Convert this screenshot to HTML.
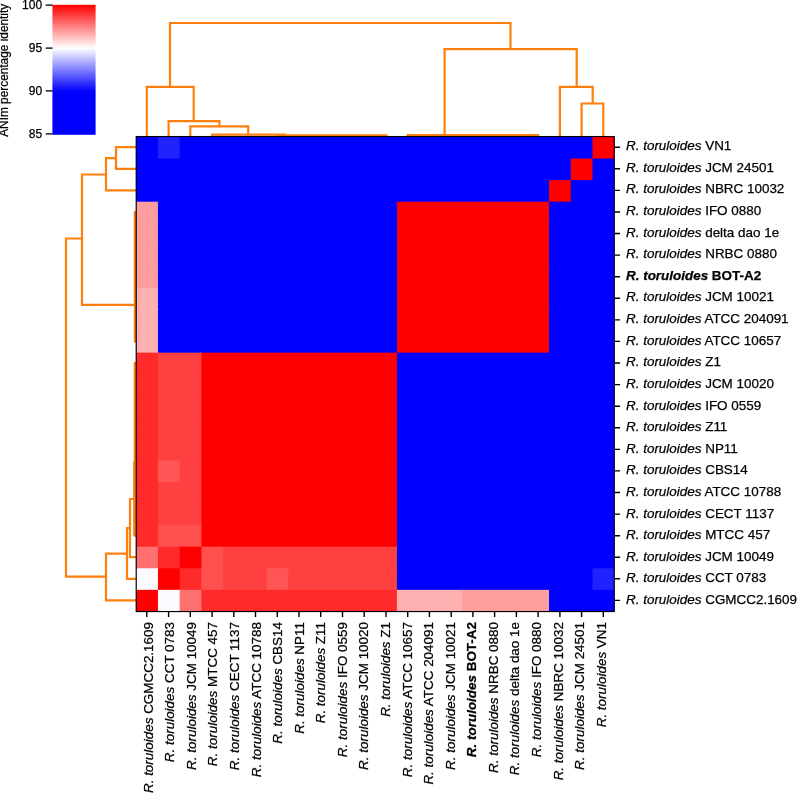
<!DOCTYPE html>
<html><head><meta charset="utf-8"><title>ANIm percentage identity heatmap</title>
<style>html,body{margin:0;padding:0;background:#fff}svg{display:block;will-change:transform}text{fill:#000;stroke:#000;stroke-width:0.25px;paint-order:stroke fill}</style></head>
<body>
<svg width="797" height="793" viewBox="0 0 797 793" font-family="'Liberation Sans', Arial, Helvetica, sans-serif">
<defs><linearGradient id="cb" x1="0" y1="0" x2="0" y2="1"><stop offset="0" stop-color="#ff0000"/><stop offset="0.3333" stop-color="#ffffff"/><stop offset="0.6667" stop-color="#0000ff"/><stop offset="1" stop-color="#0000ff"/></linearGradient></defs>
<rect width="797" height="793" fill="#fff"/>
<rect x="52.4" y="4.8" width="43.2" height="130" fill="url(#cb)"/>
<line x1="45.7" x2="52.6" y1="5.1" y2="5.1" stroke="#000" stroke-width="1.3"/>
<text x="42.1" y="8.8" font-size="12" text-anchor="end">100</text>
<line x1="45.7" x2="52.6" y1="48.1" y2="48.1" stroke="#000" stroke-width="1.3"/>
<text x="42.1" y="51.8" font-size="12" text-anchor="end">95</text>
<line x1="45.7" x2="52.6" y1="90.9" y2="90.9" stroke="#000" stroke-width="1.3"/>
<text x="42.1" y="94.6" font-size="12" text-anchor="end">90</text>
<line x1="45.7" x2="52.6" y1="133.9" y2="133.9" stroke="#000" stroke-width="1.3"/>
<text x="42.1" y="137.6" font-size="12" text-anchor="end">85</text>
<text transform="translate(8.0,70.3) rotate(-90)" font-size="11.85" text-anchor="middle">ANIm percentage identity</text>
<path d="M170.0 86.9V23.0H510.5V49.2M146.8 136.6V86.9H193.7V121.1M168.6 136.6V121.1H219.4V126.4M190.3 136.6V126.4H248.2V134.7M212.1 136.6V134.7H285.0V135.4M277.3 136.6V135.4H386.5V136.6M444.6 135.0V49.2H576.7V86.9M407.7 136.6V135.0H538.1V136.6M559.9 136.6V86.9H592.7V103.5M581.6 136.6V103.5H603.3V136.6M136.2 147.2H116.0V168.8H136.2M116.0 158.2H106.0V190.4H136.2M106.0 174.5H82.0V304.8H134.9M136.2 212.0H134.9V341.4H136.2M82.0 238.5H66.0V576.7H106.0M127.0 553.7H106.0V600.4H136.2M130.0 528.2H127.0V578.8H136.2M134.8 499.0H130.0V557.2H136.2M134.2 461.0V535.7M136.2 363.0H134.8V535.7H136.2" fill="none" stroke="#ff7f0e" stroke-width="2.2" stroke-linejoin="miter" stroke-linecap="butt"/>
<rect x="136.2" y="137.0" width="478.0" height="474.4" fill="#0000ff"/>
<g>
<rect x="136.20" y="137.00" width="22.93" height="22.76" fill="#0000ff"/>
<rect x="157.93" y="137.00" width="22.93" height="22.76" fill="#2222ff"/>
<rect x="179.65" y="137.00" width="414.02" height="22.76" fill="#0000ff"/>
<rect x="592.47" y="137.00" width="21.73" height="22.76" fill="#ff0000"/>
<rect x="136.20" y="158.56" width="435.75" height="22.76" fill="#0000ff"/>
<rect x="570.75" y="158.56" width="22.93" height="22.76" fill="#ff0000"/>
<rect x="592.47" y="158.56" width="21.73" height="22.76" fill="#0000ff"/>
<rect x="136.20" y="180.13" width="414.02" height="22.76" fill="#0000ff"/>
<rect x="549.02" y="180.13" width="22.93" height="22.76" fill="#ff0000"/>
<rect x="570.75" y="180.13" width="43.45" height="22.76" fill="#0000ff"/>
<rect x="136.20" y="201.69" width="22.93" height="22.76" fill="#ff9e9e"/>
<rect x="157.93" y="201.69" width="240.20" height="22.76" fill="#0000ff"/>
<rect x="396.93" y="201.69" width="153.29" height="22.76" fill="#ff0000"/>
<rect x="549.02" y="201.69" width="65.18" height="22.76" fill="#0000ff"/>
<rect x="136.20" y="223.25" width="22.93" height="22.76" fill="#ff9e9e"/>
<rect x="157.93" y="223.25" width="240.20" height="22.76" fill="#0000ff"/>
<rect x="396.93" y="223.25" width="153.29" height="22.76" fill="#ff0000"/>
<rect x="549.02" y="223.25" width="65.18" height="22.76" fill="#0000ff"/>
<rect x="136.20" y="244.82" width="22.93" height="22.76" fill="#ff9e9e"/>
<rect x="157.93" y="244.82" width="240.20" height="22.76" fill="#0000ff"/>
<rect x="396.93" y="244.82" width="153.29" height="22.76" fill="#ff0000"/>
<rect x="549.02" y="244.82" width="65.18" height="22.76" fill="#0000ff"/>
<rect x="136.20" y="266.38" width="22.93" height="22.76" fill="#ff9e9e"/>
<rect x="157.93" y="266.38" width="240.20" height="22.76" fill="#0000ff"/>
<rect x="396.93" y="266.38" width="153.29" height="22.76" fill="#ff0000"/>
<rect x="549.02" y="266.38" width="65.18" height="22.76" fill="#0000ff"/>
<rect x="136.20" y="287.95" width="22.93" height="22.76" fill="#ffb0b0"/>
<rect x="157.93" y="287.95" width="240.20" height="22.76" fill="#0000ff"/>
<rect x="396.93" y="287.95" width="153.29" height="22.76" fill="#ff0000"/>
<rect x="549.02" y="287.95" width="65.18" height="22.76" fill="#0000ff"/>
<rect x="136.20" y="309.51" width="22.93" height="22.76" fill="#ffb0b0"/>
<rect x="157.93" y="309.51" width="240.20" height="22.76" fill="#0000ff"/>
<rect x="396.93" y="309.51" width="153.29" height="22.76" fill="#ff0000"/>
<rect x="549.02" y="309.51" width="65.18" height="22.76" fill="#0000ff"/>
<rect x="136.20" y="331.07" width="22.93" height="22.76" fill="#ffb0b0"/>
<rect x="157.93" y="331.07" width="240.20" height="22.76" fill="#0000ff"/>
<rect x="396.93" y="331.07" width="153.29" height="22.76" fill="#ff0000"/>
<rect x="549.02" y="331.07" width="65.18" height="22.76" fill="#0000ff"/>
<rect x="136.20" y="352.64" width="22.93" height="22.76" fill="#ff2a2a"/>
<rect x="157.93" y="352.64" width="44.65" height="22.76" fill="#ff4040"/>
<rect x="201.38" y="352.64" width="196.75" height="22.76" fill="#ff0000"/>
<rect x="396.93" y="352.64" width="217.27" height="22.76" fill="#0000ff"/>
<rect x="136.20" y="374.20" width="22.93" height="22.76" fill="#ff2a2a"/>
<rect x="157.93" y="374.20" width="44.65" height="22.76" fill="#ff4040"/>
<rect x="201.38" y="374.20" width="196.75" height="22.76" fill="#ff0000"/>
<rect x="396.93" y="374.20" width="217.27" height="22.76" fill="#0000ff"/>
<rect x="136.20" y="395.76" width="22.93" height="22.76" fill="#ff2a2a"/>
<rect x="157.93" y="395.76" width="44.65" height="22.76" fill="#ff4040"/>
<rect x="201.38" y="395.76" width="196.75" height="22.76" fill="#ff0000"/>
<rect x="396.93" y="395.76" width="217.27" height="22.76" fill="#0000ff"/>
<rect x="136.20" y="417.33" width="22.93" height="22.76" fill="#ff2a2a"/>
<rect x="157.93" y="417.33" width="44.65" height="22.76" fill="#ff4040"/>
<rect x="201.38" y="417.33" width="196.75" height="22.76" fill="#ff0000"/>
<rect x="396.93" y="417.33" width="217.27" height="22.76" fill="#0000ff"/>
<rect x="136.20" y="438.89" width="22.93" height="22.76" fill="#ff2a2a"/>
<rect x="157.93" y="438.89" width="44.65" height="22.76" fill="#ff4040"/>
<rect x="201.38" y="438.89" width="196.75" height="22.76" fill="#ff0000"/>
<rect x="396.93" y="438.89" width="217.27" height="22.76" fill="#0000ff"/>
<rect x="136.20" y="460.45" width="22.93" height="22.76" fill="#ff2a2a"/>
<rect x="157.93" y="460.45" width="22.93" height="22.76" fill="#ff5555"/>
<rect x="179.65" y="460.45" width="22.93" height="22.76" fill="#ff4040"/>
<rect x="201.38" y="460.45" width="196.75" height="22.76" fill="#ff0000"/>
<rect x="396.93" y="460.45" width="217.27" height="22.76" fill="#0000ff"/>
<rect x="136.20" y="482.02" width="22.93" height="22.76" fill="#ff2a2a"/>
<rect x="157.93" y="482.02" width="44.65" height="22.76" fill="#ff4040"/>
<rect x="201.38" y="482.02" width="196.75" height="22.76" fill="#ff0000"/>
<rect x="396.93" y="482.02" width="217.27" height="22.76" fill="#0000ff"/>
<rect x="136.20" y="503.58" width="22.93" height="22.76" fill="#ff2a2a"/>
<rect x="157.93" y="503.58" width="44.65" height="22.76" fill="#ff4040"/>
<rect x="201.38" y="503.58" width="196.75" height="22.76" fill="#ff0000"/>
<rect x="396.93" y="503.58" width="217.27" height="22.76" fill="#0000ff"/>
<rect x="136.20" y="525.15" width="22.93" height="22.76" fill="#ff2a2a"/>
<rect x="157.93" y="525.15" width="44.65" height="22.76" fill="#ff5050"/>
<rect x="201.38" y="525.15" width="196.75" height="22.76" fill="#ff0000"/>
<rect x="396.93" y="525.15" width="217.27" height="22.76" fill="#0000ff"/>
<rect x="136.20" y="546.71" width="22.93" height="22.76" fill="#ff7070"/>
<rect x="157.93" y="546.71" width="22.93" height="22.76" fill="#ff2a2a"/>
<rect x="179.65" y="546.71" width="22.93" height="22.76" fill="#ff0000"/>
<rect x="201.38" y="546.71" width="22.93" height="22.76" fill="#ff5050"/>
<rect x="223.11" y="546.71" width="175.02" height="22.76" fill="#ff4040"/>
<rect x="396.93" y="546.71" width="217.27" height="22.76" fill="#0000ff"/>
<rect x="136.20" y="568.27" width="22.93" height="22.76" fill="#fafaff"/>
<rect x="157.93" y="568.27" width="22.93" height="22.76" fill="#ff0000"/>
<rect x="179.65" y="568.27" width="22.93" height="22.76" fill="#ff2a2a"/>
<rect x="201.38" y="568.27" width="22.93" height="22.76" fill="#ff5050"/>
<rect x="223.11" y="568.27" width="44.65" height="22.76" fill="#ff4040"/>
<rect x="266.56" y="568.27" width="22.93" height="22.76" fill="#ff5555"/>
<rect x="288.29" y="568.27" width="109.84" height="22.76" fill="#ff4040"/>
<rect x="396.93" y="568.27" width="196.75" height="22.76" fill="#0000ff"/>
<rect x="592.47" y="568.27" width="21.73" height="22.76" fill="#2222ff"/>
<rect x="136.20" y="589.84" width="22.93" height="21.56" fill="#ff0000"/>
<rect x="157.93" y="589.84" width="22.93" height="21.56" fill="#fafaff"/>
<rect x="179.65" y="589.84" width="22.93" height="21.56" fill="#ff7070"/>
<rect x="201.38" y="589.84" width="196.75" height="21.56" fill="#ff2a2a"/>
<rect x="396.93" y="589.84" width="66.38" height="21.56" fill="#ffb0b0"/>
<rect x="462.11" y="589.84" width="88.11" height="21.56" fill="#ff9e9e"/>
<rect x="549.02" y="589.84" width="65.18" height="21.56" fill="#0000ff"/>
</g>
<rect x="136.2" y="136.55" width="478.05" height="475.00" fill="none" stroke="#000" stroke-width="1.15"/>
<path d="M614.8 147.2h5.3M614.8 168.8h5.3M614.8 190.4h5.3M614.8 212.0h5.3M614.8 233.5h5.3M614.8 255.1h5.3M614.8 276.7h5.3M614.8 298.3h5.3M614.8 319.9h5.3M614.8 341.4h5.3M614.8 363.0h5.3M614.8 384.6h5.3M614.8 406.2h5.3M614.8 427.8h5.3M614.8 449.4h5.3M614.8 470.9h5.3M614.8 492.5h5.3M614.8 514.1h5.3M614.8 535.7h5.3M614.8 557.2h5.3M614.8 578.8h5.3M614.8 600.4h5.3M146.8 612.0v5.0M168.6 612.0v5.0M190.3 612.0v5.0M212.1 612.0v5.0M233.8 612.0v5.0M255.5 612.0v5.0M277.3 612.0v5.0M299.0 612.0v5.0M320.7 612.0v5.0M342.5 612.0v5.0M364.2 612.0v5.0M386.0 612.0v5.0M407.7 612.0v5.0M429.4 612.0v5.0M451.2 612.0v5.0M472.9 612.0v5.0M494.6 612.0v5.0M516.4 612.0v5.0M538.1 612.0v5.0M559.9 612.0v5.0M581.6 612.0v5.0M603.3 612.0v5.0" stroke="#000" stroke-width="1.4" fill="none"/>
<text x="626.0" y="150.1" font-size="13.45" xml:space="preserve"><tspan font-style="italic">R. toruloides</tspan> VN1</text>
<text x="626.0" y="171.7" font-size="13.45" xml:space="preserve"><tspan font-style="italic">R. toruloides</tspan> JCM 24501</text>
<text x="626.0" y="193.3" font-size="13.45" xml:space="preserve"><tspan font-style="italic">R. toruloides</tspan> NBRC 10032</text>
<text x="626.0" y="214.9" font-size="13.45" xml:space="preserve"><tspan font-style="italic">R. toruloides</tspan> IFO 0880</text>
<text x="626.0" y="236.5" font-size="13.45" xml:space="preserve"><tspan font-style="italic">R. toruloides</tspan> delta dao 1e</text>
<text x="626.0" y="258.2" font-size="13.45" xml:space="preserve"><tspan font-style="italic">R. toruloides</tspan> NRBC 0880</text>
<text x="626.0" y="279.8" font-size="13.45" font-weight="bold" xml:space="preserve"><tspan font-style="italic">R. toruloides</tspan> BOT-A2</text>
<text x="626.0" y="301.4" font-size="13.45" xml:space="preserve"><tspan font-style="italic">R. toruloides</tspan> JCM 10021</text>
<text x="626.0" y="323.0" font-size="13.45" xml:space="preserve"><tspan font-style="italic">R. toruloides</tspan> ATCC 204091</text>
<text x="626.0" y="344.6" font-size="13.45" xml:space="preserve"><tspan font-style="italic">R. toruloides</tspan> ATCC 10657</text>
<text x="626.0" y="366.2" font-size="13.45" xml:space="preserve"><tspan font-style="italic">R. toruloides</tspan> Z1</text>
<text x="626.0" y="387.9" font-size="13.45" xml:space="preserve"><tspan font-style="italic">R. toruloides</tspan> JCM 10020</text>
<text x="626.0" y="409.5" font-size="13.45" xml:space="preserve"><tspan font-style="italic">R. toruloides</tspan> IFO 0559</text>
<text x="626.0" y="431.1" font-size="13.45" xml:space="preserve"><tspan font-style="italic">R. toruloides</tspan> Z11</text>
<text x="626.0" y="452.7" font-size="13.45" xml:space="preserve"><tspan font-style="italic">R. toruloides</tspan> NP11</text>
<text x="626.0" y="474.3" font-size="13.45" xml:space="preserve"><tspan font-style="italic">R. toruloides</tspan> CBS14</text>
<text x="626.0" y="496.0" font-size="13.45" xml:space="preserve"><tspan font-style="italic">R. toruloides</tspan> ATCC 10788</text>
<text x="626.0" y="517.6" font-size="13.45" xml:space="preserve"><tspan font-style="italic">R. toruloides</tspan> CECT 1137</text>
<text x="626.0" y="539.2" font-size="13.45" xml:space="preserve"><tspan font-style="italic">R. toruloides</tspan> MTCC 457</text>
<text x="626.0" y="560.8" font-size="13.45" xml:space="preserve"><tspan font-style="italic">R. toruloides</tspan> JCM 10049</text>
<text x="626.0" y="582.4" font-size="13.45" xml:space="preserve"><tspan font-style="italic">R. toruloides</tspan> CCT 0783</text>
<text x="626.0" y="604.0" font-size="13.45" xml:space="preserve"><tspan font-style="italic">R. toruloides</tspan> CGMCC2.1609</text>
<text transform="translate(152.7,622.0) rotate(-90)" text-anchor="end" font-size="13.45" xml:space="preserve"><tspan font-style="italic">R. toruloides</tspan> CGMCC2.1609</text>
<text transform="translate(174.2,622.0) rotate(-90)" text-anchor="end" font-size="13.45" xml:space="preserve"><tspan font-style="italic">R. toruloides</tspan> CCT 0783</text>
<text transform="translate(195.8,622.0) rotate(-90)" text-anchor="end" font-size="13.45" xml:space="preserve"><tspan font-style="italic">R. toruloides</tspan> JCM 10049</text>
<text transform="translate(217.4,622.0) rotate(-90)" text-anchor="end" font-size="13.45" xml:space="preserve"><tspan font-style="italic">R. toruloides</tspan> MTCC 457</text>
<text transform="translate(238.9,622.0) rotate(-90)" text-anchor="end" font-size="13.45" xml:space="preserve"><tspan font-style="italic">R. toruloides</tspan> CECT 1137</text>
<text transform="translate(260.5,622.0) rotate(-90)" text-anchor="end" font-size="13.45" xml:space="preserve"><tspan font-style="italic">R. toruloides</tspan> ATCC 10788</text>
<text transform="translate(282.1,622.0) rotate(-90)" text-anchor="end" font-size="13.45" xml:space="preserve"><tspan font-style="italic">R. toruloides</tspan> CBS14</text>
<text transform="translate(303.6,622.0) rotate(-90)" text-anchor="end" font-size="13.45" xml:space="preserve"><tspan font-style="italic">R. toruloides</tspan> NP11</text>
<text transform="translate(325.2,622.0) rotate(-90)" text-anchor="end" font-size="13.45" xml:space="preserve"><tspan font-style="italic">R. toruloides</tspan> Z11</text>
<text transform="translate(346.8,622.0) rotate(-90)" text-anchor="end" font-size="13.45" xml:space="preserve"><tspan font-style="italic">R. toruloides</tspan> IFO 0559</text>
<text transform="translate(368.4,622.0) rotate(-90)" text-anchor="end" font-size="13.45" xml:space="preserve"><tspan font-style="italic">R. toruloides</tspan> JCM 10020</text>
<text transform="translate(389.9,622.0) rotate(-90)" text-anchor="end" font-size="13.45" xml:space="preserve"><tspan font-style="italic">R. toruloides</tspan> Z1</text>
<text transform="translate(411.5,622.0) rotate(-90)" text-anchor="end" font-size="13.45" xml:space="preserve"><tspan font-style="italic">R. toruloides</tspan> ATCC 10657</text>
<text transform="translate(433.1,622.0) rotate(-90)" text-anchor="end" font-size="13.45" xml:space="preserve"><tspan font-style="italic">R. toruloides</tspan> ATCC 204091</text>
<text transform="translate(454.6,622.0) rotate(-90)" text-anchor="end" font-size="13.45" xml:space="preserve"><tspan font-style="italic">R. toruloides</tspan> JCM 10021</text>
<text transform="translate(476.2,622.0) rotate(-90)" text-anchor="end" font-size="13.45" font-weight="bold" xml:space="preserve"><tspan font-style="italic">R. toruloides</tspan> BOT-A2</text>
<text transform="translate(497.8,622.0) rotate(-90)" text-anchor="end" font-size="13.45" xml:space="preserve"><tspan font-style="italic">R. toruloides</tspan> NRBC 0880</text>
<text transform="translate(519.3,622.0) rotate(-90)" text-anchor="end" font-size="13.45" xml:space="preserve"><tspan font-style="italic">R. toruloides</tspan> delta dao 1e</text>
<text transform="translate(540.9,622.0) rotate(-90)" text-anchor="end" font-size="13.45" xml:space="preserve"><tspan font-style="italic">R. toruloides</tspan> IFO 0880</text>
<text transform="translate(562.5,622.0) rotate(-90)" text-anchor="end" font-size="13.45" xml:space="preserve"><tspan font-style="italic">R. toruloides</tspan> NBRC 10032</text>
<text transform="translate(584.1,622.0) rotate(-90)" text-anchor="end" font-size="13.45" xml:space="preserve"><tspan font-style="italic">R. toruloides</tspan> JCM 24501</text>
<text transform="translate(605.6,622.0) rotate(-90)" text-anchor="end" font-size="13.45" xml:space="preserve"><tspan font-style="italic">R. toruloides</tspan> VN1</text>
</svg>
</body></html>
